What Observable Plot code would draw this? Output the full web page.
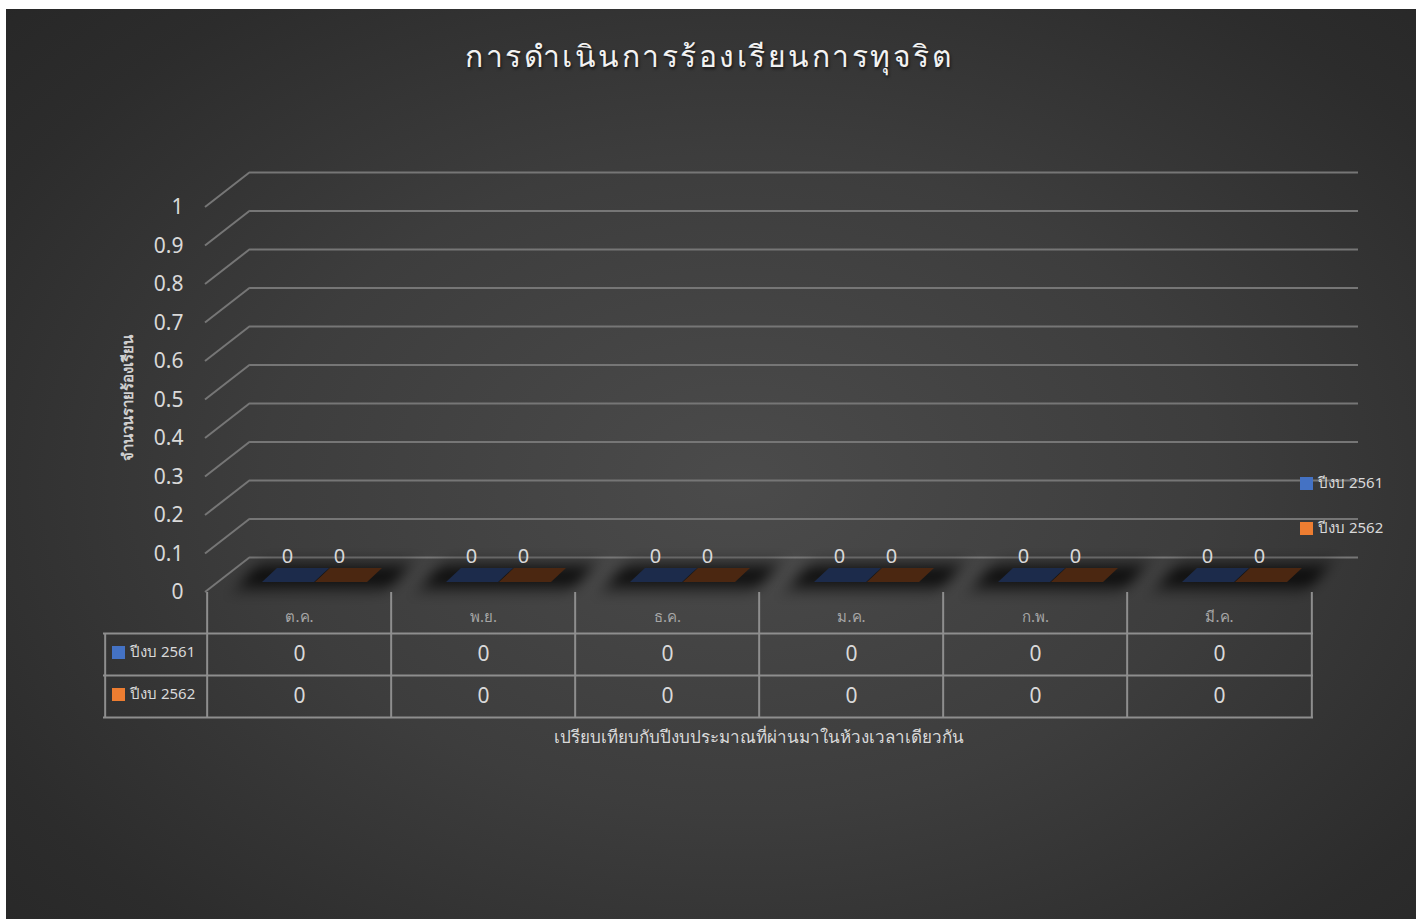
<!DOCTYPE html>
<html>
<head>
<meta charset="utf-8">
<script src="https://cdn.jsdelivr.net/npm/d3@7"></script>
<script src="https://cdn.jsdelivr.net/npm/@observablehq/plot@0.6"></script>
<style>
  html, body { margin: 0; padding: 0; background: #ffffff; }
  body { width: 1422px; height: 919px; position: relative; overflow: hidden; font-family: "Noto Sans", "DejaVu Sans", sans-serif; }
  #bg { position: absolute; left: 6px; top: 9px; width: 1410px; height: 910px;
        background: radial-gradient(ellipse 75% 80% at 52% 52%, #4b4b4b 0%, #3d3d3d 45%, #2c2c2c 80%, #262626 100%); }
  #chart { position: absolute; left: 0; top: 0; }
  .ov { position: absolute; color: #d9d9d9; white-space: nowrap; }
  #title { left: 0; width: 1418px; top: 33px; text-align: center; font-size: 30px; font-weight: 500; letter-spacing: 2.5px; color: #f2f2f2;
           text-shadow: 1px 2px 3px rgba(0,0,0,0.6); }
  #ytitle { left: 128px; top: 398px; transform: translate(-50%, -50%) rotate(-90deg); font-size: 15px; font-weight: bold; color: #d0d0d0; }
  #xtitle { left: 759px; top: 736px; transform: translate(-50%, -50%); font-size: 17px; color: #d9d9d9; }
  .sw { position: absolute; width: 13px; height: 13px; }
  .lg { position: absolute; font-size: 15px; color: #d9d9d9; transform: translateY(-50%); }
</style>
</head>
<body>
<div id="bg"></div>
<div id="chart"></div>
<div id="title" class="ov">การดำเนินการร้องเรียนการทุจริต</div>
<div id="ytitle" class="ov">จำนวนรายร้องเรียน</div>
<div id="xtitle" class="ov">เปรียบเทียบกับปีงบประมาณที่ผ่านมาในห้วงเวลาเดียวกัน</div>
<script>
// ---- data ----
const months = ["ต.ค.", "พ.ย.", "ธ.ค.", "ม.ค.", "ก.พ.", "มี.ค."];
const series = ["ปีงบ 2561", "ปีงบ 2562"];
const values2561 = [0, 0, 0, 0, 0, 0];
const values2562 = [0, 0, 0, 0, 0, 0];
const yTicks = [0, 0.1, 0.2, 0.3, 0.4, 0.5, 0.6, 0.7, 0.8, 0.9, 1];
const colors = ["#4472c4", "#ed7d31"];
const topColors = ["#1c2b4b", "#4b2711"];

const rows = [
  months.map((m, i) => ({month: m, value: values2561[i], series: series[0]})),
  months.map((m, i) => ({month: m, value: values2562[i], series: series[1]}))
];

// ---- geometry ----
const W = 1422, H = 919;
const mL = 205, mR = W - 1313, mT = 207, mB = H - 592;
const depthX = 45, depthY = -35;
const grid = "#767676";
const tableLine = "#8e8e8e";
const half = (1313 - 205) / 12;

const marks = [];
// back-wall horizontal gridlines
marks.push(Plot.ruleY(yTicks, {y: d => d, dx: depthX, dy: depthY, stroke: grid, strokeWidth: 2}));
// diagonal (side wall) gridlines
marks.push(Plot.link(yTicks, {
  x1: () => months[0], x2: () => months[1],
  y1: d => d, y2: d => d,
  stroke: grid, strokeWidth: 2, ariaDescription: "diag"
}));
// shadows under bars
marks.push(Plot.rect(months, {
  x: d => d, y1: () => 0, y2: () => 0,
  insetTop: -27, insetBottom: 4, insetLeft: 32, insetRight: -2,
  fill: "#000", fillOpacity: 0.8, ariaDescription: "shadow"
}));
// bars (flat 3D faces since values are zero)
rows.forEach((data, s) => {
  marks.push(Plot.rect(data, {
    x: "month", y1: "value", y2: "value",
    insetTop: -24, insetBottom: 10,
    insetLeft: s === 0 ? 55 : 108, insetRight: s === 0 ? 77 : 24,
    fill: topColors[s], ariaDescription: "bar"
  }));
});
// data labels
rows.forEach((data, s) => {
  marks.push(Plot.text(data, {
    x: "month", y: "value", text: d => String(d.value),
    dx: s === 0 ? -12 : 40, dy: -36, fontSize: 20, fill: "#d9d9d9"
  }));
});
// table: vertical lines at category boundaries
marks.push(Plot.ruleX(months, {x: d => d, dx: -half, insetTop: 385, insetBottom: -125, stroke: tableLine, strokeWidth: 2}));
marks.push(Plot.ruleX([months[months.length - 1]], {x: d => d, dx: half, insetTop: 385, insetBottom: -125, stroke: tableLine, strokeWidth: 2}));
// legend column left edge
marks.push(Plot.ruleX([months[0]], {x: d => d, dx: -half - 102, insetTop: 426, insetBottom: -125, stroke: tableLine, strokeWidth: 2}));
// table horizontal lines
[41, 83, 125].forEach(dy => {
  marks.push(Plot.ruleY([0], {y: d => d, dy, insetLeft: -102, stroke: tableLine, strokeWidth: 2}));
});
// header row month names
marks.push(Plot.text(months, {x: d => d, frameAnchor: "bottom", dy: 29, fontSize: 15, fill: "#a6a6a6"}));
// value rows
rows.forEach((data, s) => {
  marks.push(Plot.text(data, {x: "month", text: d => String(d.value), frameAnchor: "bottom", dy: s === 0 ? 68 : 110, fontSize: 21, fill: "#d9d9d9"}));
});

const chart = Plot.plot({
  width: W, height: H,
  marginLeft: mL, marginRight: mR, marginTop: mT, marginBottom: mB,
  style: {background: "transparent", color: "#d9d9d9", fontFamily: "Noto Sans, DejaVu Sans, sans-serif"},
  x: {domain: months, padding: 0, axis: null},
  y: {domain: [0, 1], axis: null},
  marks: [
    Plot.axisY({ticks: yTicks, tickSize: 0, tickPadding: 22, tickFormat: d => String(+d.toFixed(1)), fontSize: 21, fill: "#d9d9d9", label: null}),
    ...marks
  ]
});
document.getElementById("chart").appendChild(chart);

// ---- post-process: 3D offsets ----
const svg = d3.select(chart);
const xs = chart.scale("x");
const ys = chart.scale("y");
const x0 = Math.min(...xs.range);
// diagonal gridlines: from front-left corner up to the back wall
const diagG = svg.select('g[aria-description="diag"]');
diagG.attr("transform", null);
diagG.selectAll("path").attr("transform", null).each(function (_, i) {
  const y0 = ys.apply(yTicks[i]);
  d3.select(this).attr("d", `M${x0},${y0}L${x0 + depthX},${y0 + depthY}`);
});
// skew bars into parallelograms
const k = -15 / 14;
svg.selectAll('g[aria-description="bar"] rect').each(function () {
  const r = d3.select(this);
  const yb = +r.attr("y") + +r.attr("height");
  r.attr("transform", `matrix(1,0,${k},1,${-k * yb},0)`);
});
// blurred shadow
const defs = svg.insert("defs", ":first-child");
const f = defs.append("filter").attr("id", "blurShadow").attr("x", "-30%").attr("y", "-150%").attr("width", "160%").attr("height", "400%");
f.append("feGaussianBlur").attr("stdDeviation", 8);
svg.selectAll('g[aria-description="shadow"] rect').each(function () {
  const r = d3.select(this);
  const yb = +r.attr("y") + +r.attr("height");
  r.attr("transform", `matrix(1,0,${k * 0.6},1,${-k * 0.6 * yb},0)`).attr("filter", "url(#blurShadow)");
});

// ---- legends (HTML) ----
function addLegend(x, y, s) {
  const sw = document.createElement("div");
  sw.className = "sw"; sw.style.left = x + "px"; sw.style.top = (y - 6) + "px"; sw.style.background = colors[s];
  document.body.appendChild(sw);
  const t = document.createElement("div");
  t.className = "lg"; t.style.left = (x + 18) + "px"; t.style.top = y + "px"; t.textContent = series[s];
  document.body.appendChild(t);
}
addLegend(1300, 483, 0);
addLegend(1300, 528, 1);
addLegend(112, 652, 0);
addLegend(112, 694, 1);
</script>
</body>
</html>
